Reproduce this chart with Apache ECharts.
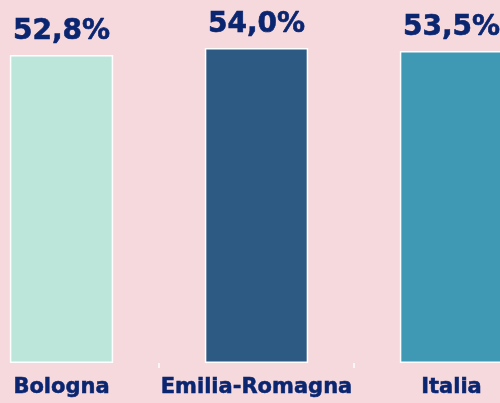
<!DOCTYPE html>
<html>
<head>
<meta charset="utf-8">
<script src="https://cdn.jsdelivr.net/npm/echarts@6/dist/echarts.min.js"></script>
<style>
	html, body { margin: 0; padding: 0; background: #f6d9dc; overflow: hidden; width: 500px; height: 403px; }
	/* il grafico è più largo della pagina: le bande esterne escono dai bordi */
	#main { position: absolute; left: -36px; top: 0; width: 585px; height: 403px; }
</style>
</head>
<body>
<div id="main"></div>
<script type="text/javascript">
	// dati
	var categorie = ['Bologna', 'Emilia-Romagna', 'Italia'];
	var valori = [52.8, 54.0, 53.5];
	var colori = ['#bde6da', '#2d5a83', '#3f99b4'];

	var chart = echarts.init(document.getElementById('main'));
	var option = {
		backgroundColor : '#f6d9dc',
		animation : false,
		grid : {
			left : 0,
			right : 0,
			top : 13,
			bottom : 40
		},
		xAxis : {
			type : 'category',
			data : categorie,
			axisLine : { show : false },
			axisTick : {
				show : true,
				length : 5,
				lineStyle : { color : '#ffffff', width : 1.5 }
			},
			axisLabel : {
				interval : 0,
				margin : 14,
				fontFamily : 'DejaVu Sans',
				fontWeight : 'bold',
				fontSize : 21,
				color : '#0b2670',
				textBorderColor : '#0b2670',
				textBorderWidth : 0.5
			}
		},
		yAxis : {
			type : 'value',
			min : 0,
			max : 60,
			show : false
		},
		series : [ {
			type : 'bar',
			barWidth : '53%',
			data : valori.map(function(v, i) {
				return { value : v, itemStyle : { color : colori[i] } };
			}),
			itemStyle : {
				borderColor : '#ffffff',
				borderWidth : 1.5
			},
			label : {
				show : true,
				position : 'top',
				distance : 9,
				fontFamily : 'DejaVu Sans',
				fontWeight : 'bold',
				fontSize : 28,
				color : '#0b2670',
				textBorderColor : '#0b2670',
				textBorderWidth : 0.6,
				formatter : function(p) {
					return p.value.toFixed(1).replace('.', ',') + '%';
				}
			}
		} ]
	};
	chart.setOption(option);
</script>
</body>
</html>
